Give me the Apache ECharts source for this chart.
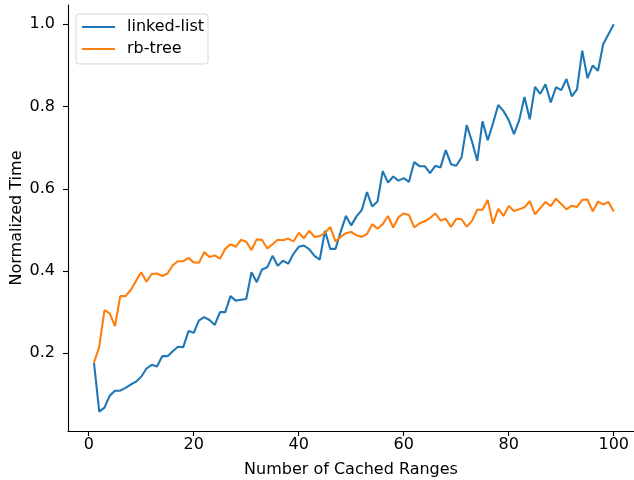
<!DOCTYPE html>
<html>
<head>
<meta charset="utf-8">
<script src="https://cdn.jsdelivr.net/npm/echarts@6/dist/echarts.min.js"></script>
<style>html,body{margin:0;padding:0;background:#fff}#c{width:634px;height:480px}</style>
</head>
<body>
<div id="c"></div>
<script>
const cachedRanges = [1,2,3,4,5,6,7,8,9,10,11,12,13,14,15,16,17,18,19,20,21,22,23,24,25,26,27,28,29,30,31,32,33,34,35,36,37,38,39,40,41,42,43,44,45,46,47,48,49,50,51,52,53,54,55,56,57,58,59,60,61,62,63,64,65,66,67,68,69,70,71,72,73,74,75,76,77,78,79,80,81,82,83,84,85,86,87,88,89,90,91,92,93,94,95,96,97,98,99,100];
const linkedList = [0.177,0.058,0.068,0.097,0.109,0.109,0.116,0.124,0.131,0.143,0.163,0.172,0.168,0.193,0.193,0.205,0.216,0.215,0.254,0.250,0.280,0.288,0.281,0.269,0.300,0.300,0.339,0.328,0.330,0.332,0.397,0.373,0.404,0.409,0.437,0.413,0.425,0.418,0.442,0.459,0.462,0.453,0.437,0.428,0.498,0.454,0.454,0.496,0.534,0.511,0.533,0.548,0.592,0.557,0.569,0.643,0.615,0.630,0.620,0.626,0.617,0.665,0.655,0.655,0.638,0.656,0.652,0.694,0.660,0.656,0.676,0.755,0.715,0.668,0.764,0.718,0.759,0.804,0.789,0.767,0.733,0.767,0.823,0.769,0.848,0.831,0.854,0.810,0.847,0.840,0.867,0.825,0.842,0.936,0.869,0.900,0.887,0.952,0.976,1.000];
const rbTree = [0.177,0.216,0.305,0.297,0.266,0.339,0.339,0.354,0.376,0.397,0.374,0.393,0.394,0.388,0.394,0.414,0.424,0.424,0.432,0.421,0.420,0.446,0.434,0.438,0.430,0.454,0.465,0.459,0.476,0.471,0.451,0.477,0.476,0.455,0.465,0.476,0.475,0.479,0.472,0.493,0.480,0.498,0.483,0.485,0.493,0.507,0.472,0.483,0.492,0.495,0.487,0.483,0.490,0.514,0.503,0.514,0.534,0.506,0.531,0.540,0.536,0.506,0.516,0.521,0.529,0.540,0.523,0.527,0.507,0.527,0.526,0.508,0.522,0.549,0.549,0.573,0.515,0.551,0.534,0.558,0.546,0.550,0.555,0.570,0.538,0.553,0.568,0.558,0.576,0.563,0.550,0.559,0.556,0.573,0.574,0.545,0.569,0.562,0.568,0.545];
const xTicks = [0,20,40,60,80,100];
const yTicks = [0.2,0.4,0.6,0.8,1.0];
const seriesNames = ['linked-list','rb-tree'];
const colors = ['#1f77b4','#ff7f0e'];

const font = 'DejaVu Sans';
const fs = 16;
const pairs = arr => cachedRanges.map((x,i)=>[x,arr[i]]);
const chart = echarts.init(document.getElementById('c'), null, {renderer:'canvas'});
const axisCommon = {
  axisLine:{show:true,onZero:false,lineStyle:{color:'#000',width:1.1}},
  axisTick:{show:true,inside:false,length:5,lineStyle:{color:'#000',width:1.1}},
  splitLine:{show:false},
  nameLocation:'middle',
  nameMoveOverlap:false,
  nameTextStyle:{fontFamily:font,fontSize:fs,color:'#000'}
};
chart.setOption({
  animation:false,
  backgroundColor:'#fff',
  grid:{left:68,right:0,top:5,bottom:49,containLabel:false,outerBoundsMode:'none'},
  legend:{
    orient:'vertical',left:76,top:14,
    data:seriesNames.map(n=>({name:n,icon:'rect'})),
    itemWidth:33,itemHeight:2,itemGap:6,
    padding:[5,4,7,6],
    borderColor:'rgba(204,204,204,0.8)',borderWidth:1,borderRadius:3,
    backgroundColor:'rgba(255,255,255,0.8)',
    textStyle:{fontFamily:font,fontSize:fs,color:'#000',padding:[0,0,0,7]}
  },
  xAxis:Object.assign({},axisCommon,{
    type:'value',min:-3.95,max:103.86,
    name:'Number of Cached Ranges',nameGap:31,
    axisTick:Object.assign({},axisCommon.axisTick,{customValues:xTicks}),
    axisLabel:{customValues:xTicks,fontFamily:font,fontSize:fs,color:'#000',margin:6}
  }),
  yAxis:Object.assign({},axisCommon,{
    type:'value',min:0.011,max:1.047,
    name:'Normalized Time',nameGap:43,nameRotate:90,
    axisTick:Object.assign({},axisCommon.axisTick,{customValues:yTicks}),
    axisLabel:{customValues:yTicks,fontFamily:font,fontSize:fs,color:'#000',margin:13,formatter:v=>v.toFixed(1)}
  }),
  series:[
    {name:seriesNames[0],type:'line',data:pairs(linkedList),symbol:'none',showSymbol:false,color:colors[0],lineStyle:{width:2.1,color:colors[0]}},
    {name:seriesNames[1],type:'line',data:pairs(rbTree),symbol:'none',showSymbol:false,color:colors[1],lineStyle:{width:2.1,color:colors[1]}}
  ]
});
</script>
</body>
</html>
